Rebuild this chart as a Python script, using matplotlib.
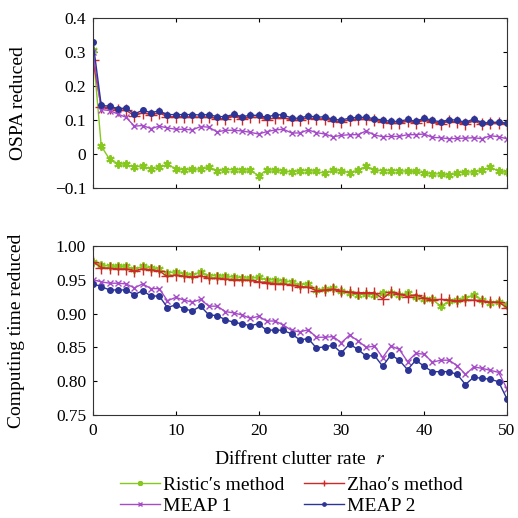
import matplotlib
matplotlib.use("Agg")
import matplotlib.pyplot as plt
import numpy as np

plt.rcParams["font.family"] = ["Liberation Serif", "DejaVu Serif"]
plt.rcParams["mathtext.fontset"] = "stix"
plt.rcParams["font.size"] = 12.5

rate = np.arange(51)

# OSPA reduced
ospa_ristic = [0.305, 0.023, -0.015, -0.029, -0.030, -0.039, -0.034, -0.045, -0.039, -0.030,
               -0.044, -0.046, -0.045, -0.044, -0.039, -0.049, -0.046, -0.046, -0.047, -0.047,
               -0.064, -0.047, -0.047, -0.050, -0.053, -0.049, -0.049, -0.051, -0.057, -0.047,
               -0.049, -0.055, -0.047, -0.036, -0.047, -0.049, -0.049, -0.049, -0.051, -0.051,
               -0.055, -0.059, -0.058, -0.063, -0.055, -0.053, -0.053, -0.047, -0.039, -0.050,
               -0.054]
ospa_zhao = [0.276, 0.138, 0.136, 0.130, 0.129, 0.112, 0.122, 0.116, 0.121, 0.110,
             0.110, 0.110, 0.109, 0.108, 0.109, 0.104, 0.104, 0.111, 0.103, 0.108,
             0.108, 0.101, 0.107, 0.107, 0.100, 0.100, 0.107, 0.103, 0.104, 0.097,
             0.095, 0.101, 0.103, 0.103, 0.099, 0.095, 0.091, 0.091, 0.097, 0.091,
             0.100, 0.093, 0.089, 0.096, 0.093, 0.088, 0.098, 0.087, 0.091, 0.090,
             0.087]
ospa_meap1 = [0.300, 0.131, 0.128, 0.118, 0.108, 0.082, 0.084, 0.075, 0.082, 0.077,
              0.073, 0.073, 0.071, 0.081, 0.079, 0.065, 0.070, 0.070, 0.068, 0.064,
              0.059, 0.066, 0.071, 0.073, 0.062, 0.062, 0.071, 0.063, 0.059, 0.051,
              0.055, 0.057, 0.057, 0.068, 0.056, 0.051, 0.052, 0.052, 0.057, 0.057,
              0.059, 0.049, 0.048, 0.045, 0.046, 0.047, 0.048, 0.045, 0.054, 0.051,
              0.045]
ospa_meap2 = [0.330, 0.143, 0.141, 0.134, 0.135, 0.118, 0.129, 0.122, 0.127, 0.116,
              0.116, 0.116, 0.116, 0.115, 0.116, 0.110, 0.110, 0.117, 0.110, 0.114,
              0.114, 0.108, 0.116, 0.115, 0.106, 0.105, 0.113, 0.108, 0.110, 0.102,
              0.100, 0.106, 0.108, 0.108, 0.104, 0.100, 0.096, 0.096, 0.102, 0.096,
              0.106, 0.099, 0.095, 0.101, 0.100, 0.093, 0.104, 0.092, 0.093, 0.094,
              0.091]

# Computing time reduced
time_ristic = [0.977, 0.972, 0.970, 0.970, 0.970, 0.966, 0.970, 0.968, 0.966, 0.960,
               0.962, 0.959, 0.957, 0.962, 0.956, 0.956, 0.955, 0.954, 0.953, 0.952,
               0.954, 0.950, 0.950, 0.948, 0.947, 0.943, 0.944, 0.935, 0.936, 0.938,
               0.933, 0.930, 0.928, 0.929, 0.928, 0.931, 0.931, 0.927, 0.930, 0.925,
               0.921, 0.921, 0.911, 0.918, 0.920, 0.923, 0.928, 0.920, 0.916, 0.917,
               0.913]
time_zhao = [0.977, 0.968, 0.967, 0.966, 0.966, 0.963, 0.966, 0.965, 0.963, 0.955,
             0.957, 0.955, 0.954, 0.956, 0.952, 0.952, 0.951, 0.950, 0.950, 0.949,
             0.947, 0.946, 0.944, 0.944, 0.942, 0.940, 0.939, 0.934, 0.935, 0.936,
             0.933, 0.932, 0.931, 0.931, 0.931, 0.922, 0.932, 0.929, 0.925, 0.928,
             0.923, 0.920, 0.921, 0.920, 0.919, 0.920, 0.920, 0.919, 0.917, 0.917,
             0.909]
time_meap1 = [0.950, 0.947, 0.945, 0.945, 0.944, 0.938, 0.944, 0.937, 0.937, 0.919,
              0.924, 0.920, 0.917, 0.921, 0.911, 0.911, 0.903, 0.901, 0.898, 0.893,
              0.896, 0.889, 0.889, 0.883, 0.875, 0.873, 0.876, 0.865, 0.865, 0.866,
              0.857, 0.868, 0.860, 0.850, 0.852, 0.835, 0.852, 0.847, 0.829, 0.841,
              0.840, 0.828, 0.831, 0.831, 0.823, 0.810, 0.821, 0.819, 0.816, 0.813,
              0.789]
time_meap2 = [0.944, 0.940, 0.935, 0.935, 0.935, 0.928, 0.934, 0.926, 0.926, 0.909,
              0.913, 0.907, 0.904, 0.911, 0.898, 0.897, 0.891, 0.887, 0.885, 0.882,
              0.885, 0.875, 0.876, 0.875, 0.870, 0.861, 0.863, 0.849, 0.851, 0.853,
              0.842, 0.855, 0.847, 0.837, 0.838, 0.822, 0.839, 0.831, 0.817, 0.831,
              0.822, 0.814, 0.814, 0.814, 0.810, 0.795, 0.806, 0.804, 0.803, 0.799,
              0.774]

names = ["Ristic\u2032s method", "Zhao\u2032s method", "MEAP 1", "MEAP 2"]
colors = ["#86c81e", "#d02828", "#a64cc8", "#2c3596"]
markers = [(6, 2, 0), "+", "x", "."]
sizes = [6, 8, 4, 8]
widths = [1.4, 1.0, 1.0, 1.0]


def style_axes(ax):
    ax.tick_params(direction="in", top=True, right=True, length=3, width=0.8)
    ax.tick_params(axis="x", pad=6)
    ax.tick_params(axis="y", pad=5)
    for sp in ax.spines.values():
        sp.set_linewidth(0.8)
        sp.set_color("#333333")
    ax.set_xlim(0, 50)
    ax.set_xticks(range(0, 51, 10))


fig = plt.figure(figsize=(5.18, 5.18), dpi=100)
ax1 = fig.add_axes([0.1795, 0.637, 0.799, 0.328])
ax2 = fig.add_axes([0.1795, 0.199, 0.799, 0.326])

for ys, c, m, s, w in zip([ospa_ristic, ospa_zhao, ospa_meap1, ospa_meap2],
                          colors, markers, sizes, widths):
    ax1.plot(rate, ys, color=c, marker=m, markersize=s, linewidth=1.0, markeredgewidth=w)
style_axes(ax1)
ax1.set_ylim(-0.1, 0.4)
ax1.set_yticks([-0.1, 0, 0.1, 0.2, 0.3, 0.4])
ax1.set_yticklabels(["\u22120.1", "0", "0.1", "0.2", "0.3", "0.4"])
ax1.set_xticklabels([])
ax1.set_ylabel("OSPA reduced", fontsize=14)
ax1.yaxis.set_label_coords(-0.16, 0.5)

lines = []
for ys, c, m, s, w, name in zip([time_ristic, time_zhao, time_meap1, time_meap2],
                                colors, markers, sizes, widths, names):
    ln, = ax2.plot(rate, ys, color=c, marker=m, markersize=s, linewidth=1.0,
                   markeredgewidth=w, label=name)
    lines.append(ln)
style_axes(ax2)
ax2.set_ylim(0.75, 1.0)
ax2.set_yticks([0.75, 0.80, 0.85, 0.90, 0.95, 1.00])
ax2.set_yticklabels(["0.75", "0.80", "0.85", "0.90", "0.95", "1.00"])
ax2.set_ylabel("Computing time reduced", fontsize=14)
ax2.yaxis.set_label_coords(-0.165, 0.5)
ax2.set_xlabel("Diffrent clutter rate  $r$", fontsize=14, labelpad=8)

# matplotlib fills legend columns first, so reorder to get row-wise layout
order = [0, 2, 1, 3]
fig.legend([lines[i] for i in order], [names[i] for i in order],
           loc="lower center", bbox_to_anchor=(0.562, -0.028), ncol=2,
           frameon=False, fontsize=14, handlelength=2.1, handletextpad=0.12,
           columnspacing=1.0, labelspacing=0.2, markerscale=0.6)

fig.savefig("out.png", dpi=100)
